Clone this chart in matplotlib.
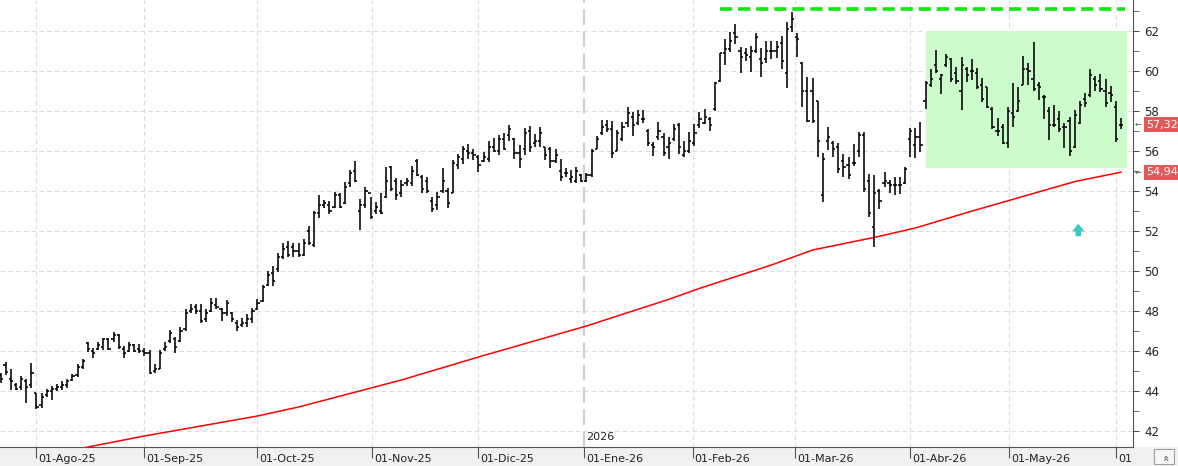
import matplotlib
matplotlib.use("Agg")
import matplotlib.pyplot as plt
import matplotlib.transforms as mtransforms
from matplotlib.collections import LineCollection
from matplotlib.patches import Rectangle
import numpy as np
import pandas as pd

# trading days (Spanish market holidays removed)
holidays = ["2025-12-25", "2025-12-26", "2026-01-01", "2026-04-03", "2026-04-06", "2026-05-01"]
dates = pd.bdate_range("2025-07-23", "2026-06-02")
dates = dates[~dates.isin(pd.to_datetime(holidays))]

month_abbr = ["Ago", "Sep", "Oct", "Nov", "Dic", "Ene", "Feb", "Mar", "Abr", "May", "Jun"]

highs = [
    44.9, 45.47, 45.08, 44.42, 44.75, 44.58, 45.38,  # jul
    43.92, 43.88, 44.12, 44.25, 44.35, 44.52, 44.58, 44.83, 45.33, 45.6, 46.45, 46.13, 46.45, 46.67, 46.67, 46.93, 46.83, 46.25, 46.47, 46.33, 46.33,
    46.13, 46.05, 45.33, 46.05, 46.43, 47.05, 46.68, 47.22, 48.08, 48.35, 48.33, 48.33, 48.1, 48.63, 48.63, 48.13, 48.53, 47.97, 47.53, 47.63, 47.85, 48.17,
    48.58, 49.3, 50.0, 50.25, 50.88, 51.38, 51.5, 51.38, 51.38, 51.6, 52.25, 53.0, 53.8, 53.55, 53.5, 53.93, 53.88, 54.47, 55.05, 55.52, 53.58, 54.22, 53.68,
    53.47, 53.92, 55.22, 55.25, 54.63, 54.55, 54.63, 55.25, 55.6, 54.8, 54.72, 53.68, 53.97, 55.17, 54.17, 55.55, 55.83, 56.25, 56.35, 56.08,
    55.8, 55.97, 56.5, 56.67, 56.8, 56.92, 57.3, 56.67, 56.3, 57.13, 57.27, 56.83, 57.18, 56.22, 56.22, 56.1, 55.58, 55.13, 55.05, 55.18, 54.85,
    54.92, 56.08, 56.75, 57.55, 57.55, 57.5, 57.05, 57.47, 58.18, 57.97, 58.05, 58.05, 57.1, 56.43, 57.47, 56.88, 56.72, 57.35, 57.38, 56.52, 56.93,
    57.35, 57.97, 58.08, 57.72, 59.43, 60.92, 61.58, 61.93, 62.35, 61.22, 61.17, 61.25, 61.92, 61.17, 61.5, 61.5, 61.5, 61.75, 62.43, 62.93,
    61.88, 60.43, 59.68, 59.63, 58.5, 55.88, 57.18, 56.52, 56.38, 55.85, 55.72, 56.33, 56.97, 56.97, 54.85, 54.8, 54.1, 54.93, 54.55, 54.68, 54.72, 55.22,
    57.17, 57.17, 57.43, 59.5, 60.08, 61.05, 59.83, 60.85, 60.63, 60.18, 60.68, 60.18, 60.58, 60.17, 59.63, 59.22, 58.18, 57.67, 57.33, 58.22,
    59.42, 59.18, 60.77, 60.38, 61.43, 59.43, 58.8, 58.22, 58.3, 58.0, 57.38, 57.68, 58.05, 58.52, 58.88, 60.08, 59.77, 59.85, 59.6, 59.27,
    58.52, 57.63,
]
lows = [
    44.4, 44.8, 44.05, 44.05, 44.05, 43.42, 44.13,
    43.08, 43.17, 43.72, 43.55, 44.0, 44.05, 44.17, 44.5, 44.72, 45.1, 45.93, 45.67, 46.03, 46.03, 46.05, 46.47, 46.1, 45.67, 45.93, 45.93, 45.92,
    45.75, 44.83, 44.88, 45.08, 46.0, 46.38, 45.88, 46.43, 47.0, 47.88, 47.85, 47.38, 47.47, 47.93, 48.08, 47.52, 47.75, 47.47, 47.02, 47.18, 47.22, 47.42,
    48.05, 48.47, 49.27, 49.27, 49.93, 50.6, 50.68, 50.68, 50.72, 50.75, 51.3, 51.22, 52.63, 53.13, 52.85, 53.13, 53.13, 53.33, 54.22, 54.47, 52.05, 53.13, 52.6,
    52.83, 52.83, 53.63, 54.02, 53.55, 53.72, 54.27, 54.27, 54.77, 53.92, 53.88, 52.93, 53.05, 53.88, 53.17, 53.88, 55.08, 55.33, 55.58, 55.55,
    54.93, 55.43, 55.43, 55.93, 55.8, 56.05, 56.52, 55.6, 55.13, 55.8, 55.93, 56.22, 56.22, 55.55, 55.13, 55.38, 54.52, 54.72, 54.38, 54.42, 54.47,
    54.47, 54.72, 56.1, 56.8, 56.97, 55.67, 56.02, 56.52, 57.18, 56.77, 57.3, 57.38, 56.27, 55.77, 56.55, 55.77, 55.58, 56.52, 55.85, 55.72, 55.92,
    56.25, 57.13, 57.35, 57.0, 58.02, 59.47, 60.3, 60.93, 61.35, 59.88, 60.52, 59.97, 60.92, 59.68, 60.38, 60.6, 60.63, 60.1, 59.17, 61.93,
    60.68, 58.18, 57.43, 57.42, 55.72, 53.43, 56.05, 55.68, 54.92, 54.68, 54.58, 55.27, 55.72, 53.97, 52.68, 51.22, 53.08, 54.18, 53.92, 53.8, 53.85, 54.35,
    55.68, 55.63, 55.97, 58.08, 59.22, 59.92, 58.83, 60.18, 59.47, 59.33, 58.05, 59.47, 59.55, 59.08, 58.43, 58.13, 57.1, 56.77, 56.33, 56.13,
    57.22, 57.93, 59.3, 59.3, 59.0, 58.55, 57.58, 56.55, 57.22, 56.93, 56.13, 55.75, 56.17, 57.35, 58.18, 58.72, 59.0, 58.93, 58.18, 58.47,
    56.47, 57.1,
]
opens = [
    44.8, 45.3, 44.6, 44.3, 44.2, 44.5, 44.3,
    43.9, 43.3, 43.8, 44.0, 44.1, 44.2, 44.3, 44.55, 44.8, 45.2, 46.4, 46.0, 46.1, 46.2, 46.6, 46.6, 46.8, 46.1, 46.0, 46.3, 46.1,
    46.0, 45.9, 45.0, 45.1, 46.1, 46.5, 46.6, 46.5, 47.1, 48.0, 48.2, 48.0, 47.6, 48.0, 48.3, 48.1, 47.9, 47.9, 47.4, 47.3, 47.4, 47.6,
    48.1, 48.5, 49.3, 49.9, 50.1, 50.7, 51.2, 51.2, 51.0, 50.8, 52.0, 51.3, 52.9, 53.3, 53.3, 53.2, 53.8, 53.4, 54.4, 55.0, 53.0, 53.3, 53.9,
    53.0, 53.0, 53.7, 55.2, 54.5, 53.9, 54.4, 54.4, 55.5, 54.7, 54.5, 53.5, 53.3, 54.0, 54.0, 53.9, 55.3, 55.6, 56.0, 55.9,
    55.7, 55.5, 55.6, 56.2, 56.0, 56.6, 56.8, 56.6, 55.9, 56.1, 57.0, 56.4, 56.5, 56.2, 56.1, 55.5, 55.0, 54.9, 54.6, 54.5, 54.8,
    54.5, 54.8, 56.1, 56.9, 57.3, 57.1, 56.0, 56.6, 57.4, 57.7, 57.4, 57.6, 57.0, 56.3, 56.7, 56.7, 56.2, 56.6, 57.3, 55.8, 56.0,
    56.4, 57.3, 57.4, 57.6, 58.1, 59.5, 60.9, 61.1, 61.9, 61.0, 60.9, 60.7, 61.0, 60.6, 60.6, 61.0, 61.0, 61.4, 59.9, 62.2,
    61.7, 60.4, 59.0, 59.0, 58.5, 53.8, 56.5, 56.4, 56.2, 55.5, 55.3, 55.4, 56.0, 56.8, 54.5, 52.2, 54.0, 54.4, 54.4, 54.3, 54.3, 54.4,
    56.6, 56.3, 56.7, 58.5, 59.3, 60.3, 59.6, 60.3, 60.6, 59.9, 59.0, 60.1, 60.0, 59.9, 59.3, 59.2, 58.1, 57.0, 57.2, 56.4,
    57.9, 58.0, 59.3, 60.1, 59.6, 59.3, 58.7, 58.0, 57.3, 57.6, 57.2, 57.5, 56.2, 57.4, 58.6, 58.8, 59.6, 59.5, 59.0, 58.9,
    58.2, 57.3,
]
closes = [
    44.6, 44.95, 44.5, 44.1, 44.6, 44.2, 44.9,
    43.2, 43.7, 44.0, 44.1, 44.2, 44.3, 44.5, 44.75, 45.2, 45.5, 46.1, 45.9, 46.3, 46.6, 46.1, 46.8, 46.2, 45.9, 46.3, 46.0, 46.0,
    45.9, 44.9, 45.1, 45.9, 46.2, 46.9, 46.2, 47.0, 47.9, 48.1, 48.0, 47.5, 47.9, 48.4, 48.2, 47.9, 48.4, 47.6, 47.2, 47.4, 47.6, 48.0,
    48.4, 49.2, 49.8, 49.5, 50.7, 51.1, 50.8, 51.0, 50.8, 51.4, 51.4, 52.9, 53.3, 53.4, 53.0, 53.8, 53.2, 54.2, 54.9, 54.5, 53.3, 54.0, 52.7,
    53.2, 52.9, 54.5, 54.1, 53.8, 54.3, 54.5, 55.0, 54.8, 54.1, 54.0, 53.1, 53.7, 54.5, 53.4, 55.4, 55.7, 56.1, 55.9, 55.8,
    55.3, 55.7, 56.2, 56.0, 56.6, 56.1, 57.1, 55.9, 55.6, 56.9, 56.2, 56.5, 56.9, 55.8, 55.5, 55.8, 54.7, 54.9, 54.7, 55.0, 54.5,
    54.8, 56.0, 56.6, 57.2, 57.1, 55.9, 56.9, 57.2, 57.9, 57.3, 57.8, 57.6, 56.4, 56.2, 57.0, 55.9, 56.4, 57.1, 56.2, 56.0, 56.5,
    56.9, 57.6, 57.7, 57.3, 59.4, 60.9, 61.1, 61.5, 61.7, 60.7, 60.8, 61.0, 61.7, 60.4, 61.0, 61.0, 61.2, 60.5, 62.1, 62.6,
    61.6, 59.0, 57.5, 57.5, 56.5, 55.6, 56.7, 56.1, 55.1, 55.2, 54.8, 55.4, 56.8, 54.1, 52.9, 53.9, 53.5, 54.5, 54.3, 54.3, 54.3, 55.1,
    57.0, 56.7, 56.3, 59.4, 59.6, 60.0, 59.8, 60.7, 59.6, 59.5, 60.3, 59.8, 60.0, 59.2, 58.6, 58.2, 57.2, 57.0, 56.4, 58.0,
    57.7, 58.5, 60.1, 60.0, 59.1, 59.2, 58.7, 57.3, 57.3, 57.1, 57.2, 56.0, 57.8, 58.3, 58.4, 59.8, 59.3, 59.1, 58.4, 58.8,
    56.6, 57.32,
]

# 200-session moving average, read at a few sessions
ma_idx = [16, 28, 50, 58, 78, 93, 114, 130, 136, 150, 158, 170, 178, 188, 201, 209, 218]
ma_val = [41.15, 41.75, 42.75, 43.2, 44.55, 45.7, 47.25, 48.58, 49.13, 50.3, 51.05, 51.68, 52.15, 52.92, 53.88, 54.47, 54.94]

resistance = 63.08
range_box = (180, 219.1, 55.17, 62.0)  # x0, x1, low, high

n = len(closes)
idx = np.arange(n)

fig = plt.figure(figsize=(11.78, 4.66), dpi=100)
fig.add_artist(Rectangle((0, 0), 1, 19 / 466, transform=fig.transFigure,
                         fc="#f0f0f0", ec="none", zorder=-5))
ax = fig.add_axes([0, 19 / 466, 1133 / 1178, 447 / 466])
ax.set_xlim(-0.1, 220.35)
ax.set_ylim(41.2, 63.55)

# month grid positions in calendar time
d_ord = np.array([d.toordinal() for d in dates])
months = pd.date_range("2025-08-01", "2026-06-01", freq="MS")
m_pos = np.interp([m.toordinal() for m in months], d_ord, idx)

ax.set_yticks(np.arange(42, 63, 2))
ax.set_yticks(np.arange(43, 64, 2), minor=True)
for y in np.arange(42, 63, 2):
    ax.axhline(y, color="#dcdcdc", lw=0.8, ls=(0, (4, 3)), zorder=0)
for m, p in zip(months, m_pos):
    if m.month == 1:
        ax.axvline(p, color="#cfcfcf", lw=1.6, ls=(0, (7, 3)), zorder=0)
    else:
        ax.axvline(p, color="#dcdcdc", lw=0.8, ls=(0, (4, 3)), zorder=0)

x0, x1, lo, hi = range_box
ax.add_patch(Rectangle((x0, lo), x1 - x0, hi - lo, fc="#ccfccc", ec="none", zorder=0.5))
ax.hlines(resistance, 140, 218.7, color="#14e614", lw=2.6, ls=(0, (3.4, 1.6)), zorder=3)

segs = []
for i in idx:
    segs.append([(i, lows[i]), (i, highs[i])])
    segs.append([(i - 0.42, opens[i]), (i, opens[i])])
    segs.append([(i, closes[i]), (i + 0.42, closes[i])])
ax.add_collection(LineCollection(segs, colors="black", linewidths=1.15, zorder=4))

ax.plot(ma_idx, ma_val, color="#ff0000", lw=1.1, zorder=3)

ax.annotate("", xy=(209.7, 52.5), xytext=(209.7, 51.6),
            arrowprops=dict(arrowstyle="simple,head_width=0.9,head_length=0.55,tail_width=0.4",
                            color="#3cc8c8", lw=0))

for s in ["left", "top"]:
    ax.spines[s].set_visible(False)
for s in ["right", "bottom"]:
    ax.spines[s].set_color("#555555")
ax.yaxis.tick_right()
ax.tick_params(axis="y", which="both", length=4, color="#555555", labelsize=8.5,
               pad=4, labelcolor="#222222")
ax.set_xticks(m_pos)
ax.set_xticklabels([])
ax.tick_params(axis="x", length=8, color="#555555")

trx = mtransforms.blended_transform_factory(ax.transData, ax.transAxes)
for m, p in zip(months, m_pos):
    lab = "01" if m.month == 6 else "01-%s-%s" % (month_abbr[(m.month - 8) % 12], str(m.year)[2:])
    ax.text(p + 0.4, -0.026, lab, transform=trx, fontsize=8, color="#222222",
            ha="left", va="center", clip_on=False)
ax.text(m_pos[5] + 0.5, 0.022, "2026", transform=trx, fontsize=8, color="#222222",
        ha="left", va="center")

try_ = mtransforms.blended_transform_factory(ax.transAxes, ax.transData)
for val in [closes[-1], ma_val[-1]]:
    ax.text(1135 / 1133, val, "\u2190", transform=try_, fontsize=6, color="#555555",
            ha="left", va="center", clip_on=False)
    ax.text(1146 / 1133, val, ("%.2f" % val).replace(".", ","), transform=try_,
            fontsize=8, color="white", ha="left", va="center", clip_on=False,
            bbox=dict(boxstyle="square,pad=0.22", fc="#e05a5a", ec="none"))

# scroll button bottom right
fig.add_artist(Rectangle((1154 / 1178, 2 / 466), 20 / 1178, 15 / 466, transform=fig.transFigure,
                         fc="#f7f7f7", ec="#a0a0a0", lw=0.8))
fig.text(1164 / 1178, 9 / 466, "\u00ab", rotation=-90, fontsize=8, color="#444444",
         ha="center", va="center")

fig.savefig("out.png", dpi=100)
